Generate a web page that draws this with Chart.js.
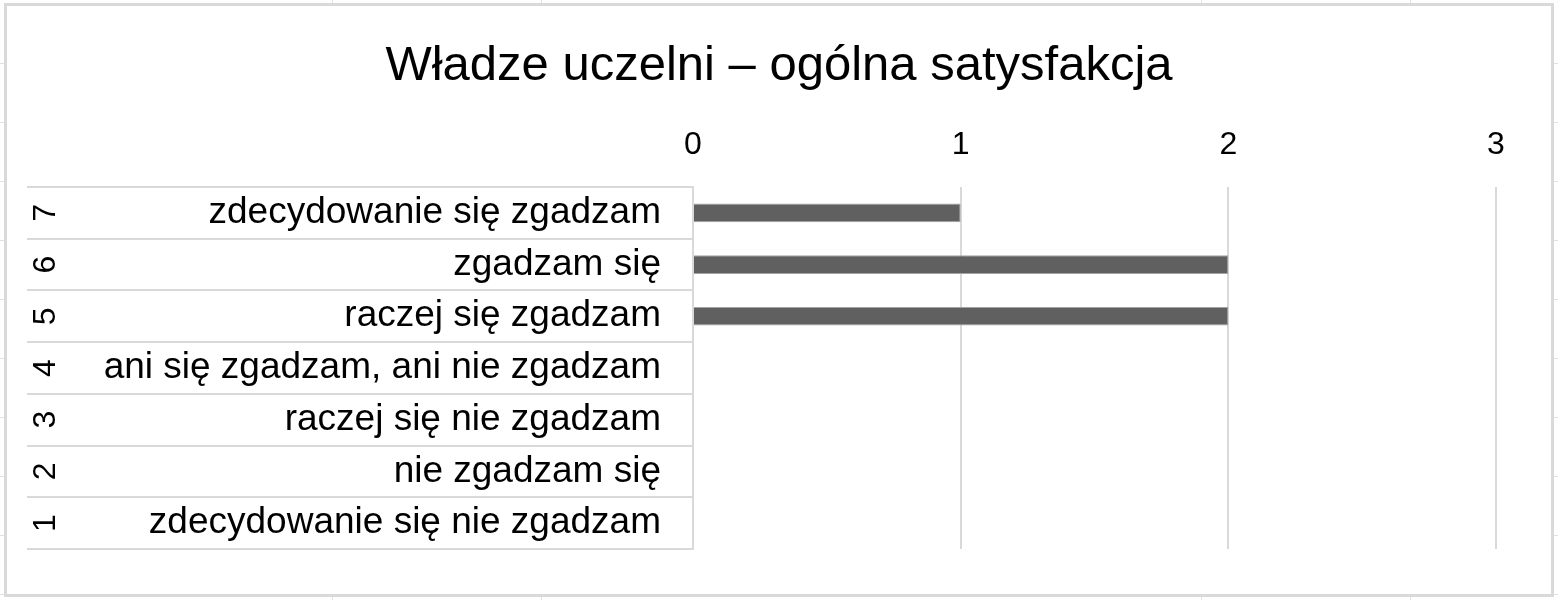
<!DOCTYPE html>
<html>
<head>
<meta charset="utf-8">
<script src="https://cdn.jsdelivr.net/npm/chart.js@4.4.1/dist/chart.umd.min.js"></script>
<style>
  html, body { margin: 0; padding: 0; background: #fff; }
  body { width: 1558px; height: 600px; position: relative; overflow: hidden; font-family: "Liberation Sans", Arial, sans-serif; }
  .sheet-v { position: absolute; top: 0; width: 1px; height: 600px; background: #e1e1e1; }
  .sheet-h { position: absolute; left: 0; height: 1px; width: 1558px; background: #e1e1e1; }
  #box { position: absolute; left: 4px; top: 3px; width: 1550px; height: 594px; box-sizing: border-box; border: 3px solid #d9d9d9; background: #fff; }
  #wrap { position: absolute; left: 0; top: 0; width: 1544px; height: 588px; }
</style>
</head>
<body>
<div id="sheet"></div>
<div id="box"><div id="wrap"><canvas id="c"></canvas></div></div>
<script>
// ---- data ----
const codes = ['1', '2', '3', '4', '5', '6', '7'];
const answers = [
  'zdecydowanie się nie zgadzam',
  'nie zgadzam się',
  'raczej się nie zgadzam',
  'ani się zgadzam, ani nie zgadzam',
  'raczej się zgadzam',
  'zgadzam się',
  'zdecydowanie się zgadzam'
];
const counts = [0, 0, 0, 0, 2, 2, 1];
const xTicks = [0, 1, 2, 3];
const titleText = 'Władze uczelni – ogólna satysfakcja';

// spreadsheet background lines (page decoration)
const sheetCols = [332, 541, 1201, 1410];
const sheetRows = [63, 122, 181, 240, 299, 358, 417, 476, 535, 594];
const sheet = document.getElementById('sheet');
sheetCols.forEach(x => { const d = document.createElement('div'); d.className = 'sheet-v'; d.style.left = x + 'px'; sheet.appendChild(d); });
sheetRows.forEach(y => { const d = document.createElement('div'); d.className = 'sheet-h'; d.style.top = y + 'px'; sheet.appendChild(d); });

const FONT = '"Liberation Sans", Arial, sans-serif';
const GRID = '#d9d9d9';

new Chart(document.getElementById('c'), {
  type: 'bar',
  data: {
    labels: answers,
    datasets: [{
      data: counts,
      backgroundColor: '#606060',
      borderColor: '#a3a3a3',
      borderWidth: 1,
      borderSkipped: 'start',
      categoryPercentage: 1,
      barPercentage: 0.36,
      yAxisID: 'y'
    }]
  },
  options: {
    indexAxis: 'y',
    responsive: true,
    maintainAspectRatio: false,
    animation: false,
    events: [],
    layout: { padding: { left: 20, right: 20, top: 0, bottom: 45 } },
    plugins: {
      legend: { display: false },
      tooltip: { enabled: false },
      title: {
        display: true,
        text: titleText,
        color: '#000',
        font: { family: FONT, size: 49, weight: 'normal', lineHeight: 1.2 },
        padding: { top: 31, bottom: 0 }
      }
    },
    scales: {
      x: {
        position: 'top',
        min: 0,
        max: 3,
        afterBuildTicks: (s) => { s.ticks = xTicks.map(v => ({ value: v })); },
        ticks: { color: '#000', font: { family: FONT, size: 32 }, padding: 23 },
        grid: { color: GRID, lineWidth: 2, drawTicks: false },
        border: { display: false },
        afterFit: (s) => { s.height = 181 - 31 - 58.8; }
      },
      y: {
        type: 'category',
        position: 'left',
        weight: 0,
        reverse: true,
        offset: true,
        ticks: { color: '#000', font: { family: FONT, size: 37 }, padding: -559, autoSkip: false },
        grid: { offset: true, drawOnChartArea: false, drawTicks: true, tickLength: 591, color: GRID, lineWidth: 2 },
        border: { display: true, color: GRID, width: 2 },
        afterFit: (s) => { s.width = 591; }
      },
      y2: {
        type: 'category',
        labels: codes,
        position: 'left',
        weight: 10,
        reverse: true,
        offset: true,
        ticks: { color: '#000', font: { family: FONT, size: 32 }, minRotation: 90, maxRotation: 90, crossAlign: 'center', padding: -28, autoSkip: false },
        grid: { offset: true, drawOnChartArea: false, drawTicks: true, tickLength: 75, color: GRID, lineWidth: 2 },
        border: { display: false },
        afterFit: (s) => { s.width = 75; }
      },
      // empty right-hand spacer so the title stays centred on the whole chart box
      yR: {
        type: 'category',
        labels: codes,
        position: 'right',
        offset: true,
        ticks: { display: false },
        grid: { display: false },
        border: { display: false },
        afterFit: (s) => { s.width = 35; }
      }
    }
  }
});
</script>
</body>
</html>
